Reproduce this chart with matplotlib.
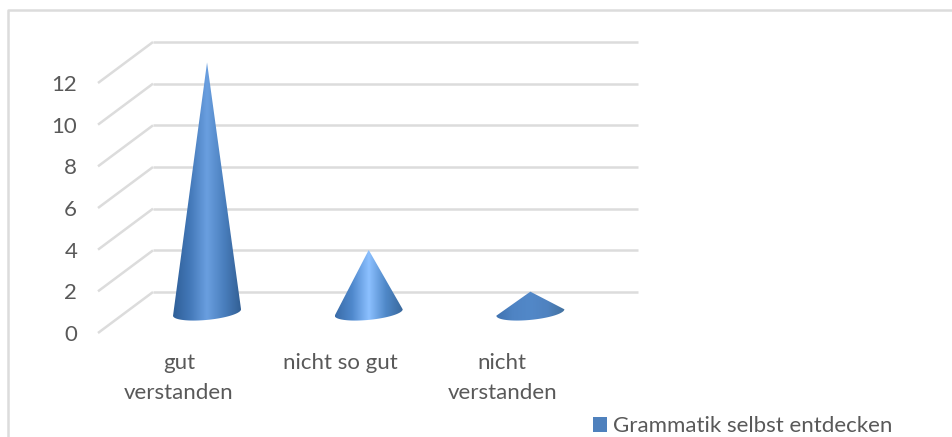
import numpy as np
import matplotlib
matplotlib.use("Agg")
import matplotlib.pyplot as plt
from matplotlib.colors import LinearSegmentedColormap
from matplotlib.patches import Polygon, Rectangle

categories = ["gut\nverstanden", "nicht so gut", "nicht\nverstanden"]
values = [12, 3, 1]
series_name = "Grammatik selbst entdecken"
y_ticks = [0, 2, 4, 6, 8, 10, 12]

W, H = 952, 437
TEXT = "#595959"
GRID = "#dcdcdc"
FS = 16
plt.rcParams["font.family"] = ["Lato", "DejaVu Sans"]
plt.rcParams["lines.solid_capstyle"] = "butt"
fig = plt.figure(figsize=(W / 100, H / 100), dpi=100)


def plane(left, bottom_px, right, top_px):
    ax = fig.add_axes([left / W, 1 - bottom_px / H, (right - left) / W, (bottom_px - top_px) / H])
    ax.set_xlim(-0.5, 2.5)
    ax.set_ylim(0, 12)
    ax.patch.set_alpha(0)
    for s in ax.spines.values():
        s.set_visible(False)
    return ax


back = plane(153, 292, 638, 42)
mid = plane(126.2, 312.5, 611.2, 62.5)
front = plane(98, 333, 583, 83)

# wall and floor grid
px_x = 3 / 485
px_y = 12 / 250
back.set_xticks([])
back.set_yticks(y_ticks)
back.tick_params(left=False, labelleft=False)
back.grid(axis="y", color=GRID, lw=1.8, clip_on=False)
back.set_axisbelow(True)
for v in y_ticks:
    back.plot([-0.5, -0.5 - 55 * px_x], [v, v - 41 * px_y], color=GRID, lw=1.8, clip_on=False)

# cones
stops = [
    ["#2f5f98", "#4378b8", "#6a9fe0", "#4a7fbe", "#325f94"],
    ["#3a6ca8", "#4f88cc", "#8cc0ff", "#4f88c8", "#3a689c"],
    ["#3f72b0", "#4f84c4", "#5288c8", "#4f82c0", "#44729f"],
]
half_w = 34 * px_x
t = np.linspace(0, np.pi, 80)
gx = np.linspace(0, 1, 256)[None, :]
mid.set_xticks([])
mid.set_yticks([])
for i, v in enumerate(values):
    bx = i + half_w * np.cos(t)
    by = (3.2 * np.cos(t) - 7.4 * np.sin(t)) * px_y
    pts = np.vstack([[i, v], np.column_stack([bx, by])])
    poly = Polygon(pts, closed=True, transform=mid.transData, facecolor="none", edgecolor="none")
    mid.add_patch(poly)
    cmap = LinearSegmentedColormap.from_list(f"cone{i}", stops[i])
    im = mid.imshow(gx, cmap=cmap, extent=[i - half_w, i + half_w, -1, v + 0.1], aspect="auto", zorder=3, interpolation="bilinear")
    im.set_clip_path(poly)
    im.set_clip_box(fig.bbox)
mid.set_xlim(-0.5, 2.5)
mid.set_ylim(0, 12)

# axis labels on the front plane
front.set_xticks(range(len(categories)))
front.set_xticklabels(categories, fontsize=FS, color=TEXT, linespacing=1.6)
front.set_yticks(y_ticks)
front.set_yticklabels([str(v) for v in y_ticks], fontsize=FS, color=TEXT)
front.tick_params(length=0)
front.tick_params(axis="x", pad=14.5)
front.tick_params(axis="y", pad=15)

# legend
handle = Rectangle((0, 0), 1, 1, facecolor="#4f81bd", edgecolor="none")
fig.legend([handle], [series_name], loc="lower left", bbox_to_anchor=(575 / W, 1 - 454 / H), frameon=False,
           fontsize=FS, labelcolor=TEXT, handlelength=0.63, handleheight=0.63, handletextpad=0.27,
           borderpad=0.3)

# chart frame
fig.add_artist(plt.Line2D([8 / W, 8 / W, 1], [0, 1 - 10 / H, 1 - 10 / H], color=GRID, lw=1.8, transform=fig.transFigure))

fig.savefig("out.png", dpi=100)
